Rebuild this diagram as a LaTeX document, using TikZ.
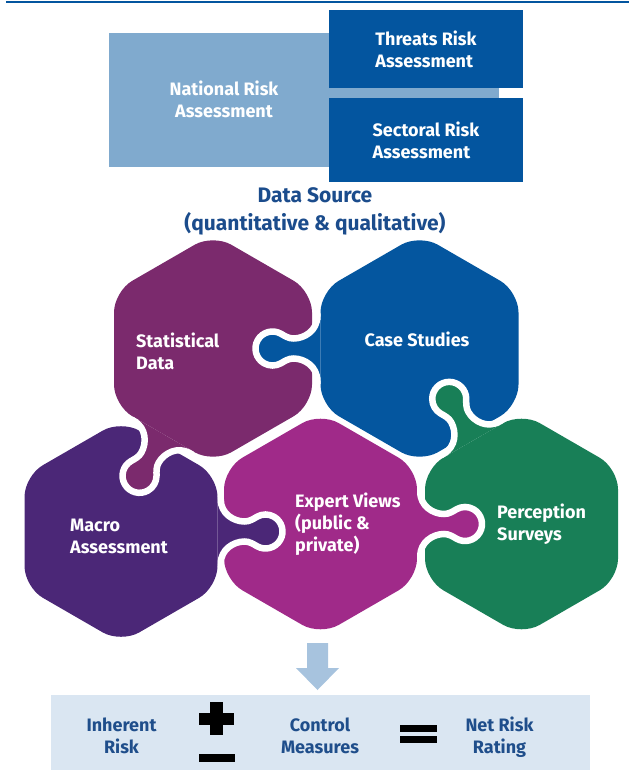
\documentclass[tikz,border=0pt]{standalone}
\usepackage{fontspec}
\setmainfont{Fira Sans}
\usepackage{xcolor}
\usepackage{tikz}
\usetikzlibrary{positioning}
\definecolor{nrablue}{HTML}{80AACE}
\definecolor{boxblue}{HTML}{03559F}
\definecolor{titleblue}{HTML}{1B4C8C}
\definecolor{statpurple}{HTML}{7B2A6D}
\definecolor{caseblue}{HTML}{04569F}
\definecolor{macroviolet}{HTML}{4B2777}
\definecolor{expertmagenta}{HTML}{A02A89}
\definecolor{percepgreen}{HTML}{187F57}
\definecolor{arrowblue}{HTML}{A7C3DE}
\definecolor{barblue}{HTML}{DAE6F2}
\definecolor{bartextblue}{HTML}{1F4E8B}
\tikzset{
    boxtext/.style={text=white, font=\fontsize{18}{22}\selectfont\bfseries,
        align=left, inner sep=0pt},
    lightbox/.style={rectangle, fill=nrablue, inner sep=0pt},
    darkbox/.style={rectangle, fill=boxblue, minimum width=194pt, boxtext},
    titletext/.style={text=titleblue, font=\fontsize{21}{28}\selectfont\bfseries,
        align=center, inner sep=0pt},
    hexlabel/.style={boxtext},
    barbox/.style={rectangle, fill=barblue, inner sep=0pt},
    bartext/.style={text=bartextblue, font=\fontsize{18}{22}\selectfont\bfseries,
        align=center, inner sep=0pt},
    knobline/.style={draw=white, line width=6.5pt},
    hexfill/.style={fill=#1, rounded corners=21pt}
}
% rounded hexagon round a centre, given its apothem
\newcommand{\hexpath}[2]{(#1) ++(-#2,0) -- ++(0,#2*0.57735) -- ++(#2,#2*0.57735)
    -- ++(#2,-#2*0.57735) -- ++(0,-#2*1.1547) -- ++(-#2,-#2*0.57735)
    -- ++(-#2,#2*0.57735) -- cycle}
% puzzle tab: colour, centre, direction, apothem
\newcommand{\jigknob}[4]{%
    \begin{scope}[shift={(#2)}, rotate=#3]
        \clip (#4,-60) -- (#4+100,-60) -- (#4+100,60) -- (#4,60) -- cycle;
        \filldraw[fill=#1, knobline] (#4+3.25,-32) .. controls (#4+3.25,-18) and (#4+16,-10)
            .. (#4+27,-10) .. controls (#4+32,-10) and (#4+35.5,-12.4) .. (#4+39.5,-14.7)
            arc[start angle=-120, end angle=120, radius=17]
            .. controls (#4+35.5,12.4) and (#4+32,10) .. (#4+27,10)
            .. controls (#4+16,10) and (#4+3.25,18) .. (#4+3.25,32)
            -- (#4-20,32) -- (#4-20,-32) -- cycle;
    \end{scope}}

\begin{document}
\begin{tikzpicture}[x=1pt, y=1pt]
    \useasboundingbox (0,0) rectangle (629,-776);
    \draw[boxblue, line width=2.6pt] (6,-2.2) -- (629,-2.2);

    % risk assessments
    \node[lightbox, minimum width=390pt, minimum height=134pt] (nra) at (304,-100) {};
    \node[boxtext, align=center] (nratext) at (224,-99) {National Risk\\Assessment};
    \node[darkbox, minimum height=78pt] (threats) at (426,-49) {Threats Risk\\Assessment};
    \node[darkbox, minimum height=84pt] (sectoral) at (426,-140) {Sectoral Risk\\Assessment};
    \node[titletext] (datasource) at (315,-211) {Data Source\\(quantitative \& qualitative)};

    % puzzle of data sources
    \coordinate (stat) at (213,-348.5);
    \coordinate (case) at (419.5,-348.5);
    \coordinate (macro) at (121,-531.5);
    \coordinate (expert) at (320.5,-524);
    \coordinate (percep) at (521.5,-524);
    \fill[hexfill=statpurple] \hexpath{stat}{99};
    \fill[hexfill=caseblue] \hexpath{case}{99};
    \fill[hexfill=macroviolet] \hexpath{macro}{96.5};
    \fill[hexfill=expertmagenta] \hexpath{expert}{96.5};
    \fill[hexfill=percepgreen] \hexpath{percep}{96.5};
    \jigknob{caseblue}{case}{180}{99}
    \jigknob{percepgreen}{percep}{120}{96.5}
    \jigknob{statpurple}{stat}{-120}{99}
    \jigknob{macroviolet}{macro}{0}{96.5}
    \jigknob{expertmagenta}{expert}{0}{96.5}
    \node[hexlabel, anchor=west] (statlabel) at (136,-351.5) {Statistical\\Data};
    \node[hexlabel] (caselabel) at (417,-339) {Case Studies};
    \node[hexlabel, anchor=west] (macrolabel) at (70,-536.5) {Macro\\Assessment};
    \node[hexlabel, anchor=west] (expertlabel) at (295,-524) {Expert Views\\(public \&\\private)};
    \node[hexlabel, anchor=west] (perceplabel) at (497,-524.5) {Perception\\Surveys};

    % down arrow
    \fill[arrowblue] (307,-643) -- (328,-643) -- (328,-668) -- (339,-668)
        -- (317.5,-690) -- (296,-668) -- (307,-668) -- cycle;

    % rating bar
    \node[barbox, minimum width=539pt, minimum height=75pt] (bar) at (320.5,-732.5) {};
    \node[bartext] (inherent) at (121.5,-736) {Inherent\\Risk};
    \node[bartext] (control) at (320,-736) {Control\\Measures};
    \node[bartext] (netrisk) at (499.5,-737) {Net Risk\\Rating};
    \fill (210,-702) rectangle (223,-735);
    \fill (199,-713) rectangle (234,-725);
    \fill (199,-754) rectangle (235,-762);
    \fill (400,-725) rectangle (437,-732);
    \fill (400,-736) rectangle (437,-743);
\end{tikzpicture}
\end{document}
